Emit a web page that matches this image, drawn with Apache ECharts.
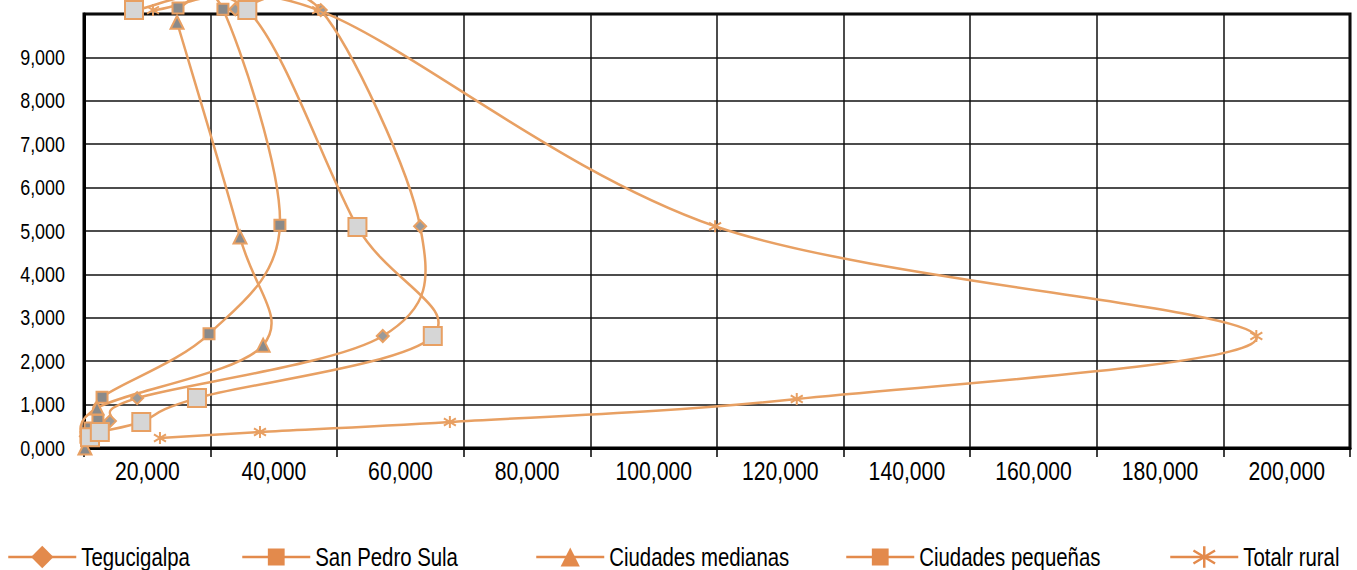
<!DOCTYPE html>
<html>
<head>
<meta charset="utf-8">
<script src="https://cdn.jsdelivr.net/npm/echarts@6.0.0/dist/echarts.min.js"></script>
<style>
  html, body { margin: 0; padding: 0; background: #ffffff; }
  #chart { width: 1357px; height: 570px; }
</style>
</head>
<body>
<div id="chart"></div>
<script>
// Series names as shown in the legend
const seriesNames = ['Tegucigalpa', 'San Pedro Sula', 'Ciudades medianas', 'Ciudades pequeñas', 'Totalr rural'];

// Tick labels
const xTickLabels = ['20,000', '40,000', '60,000', '80,000', '100,000', '120,000', '140,000', '160,000', '180,000', '200,000'];
const yTickLabels = ['0,000', '1,000', '2,000', '3,000', '4,000', '5,000', '6,000', '7,000', '8,000', '9,000', ''];

// Tegucigalpa
const teguX = [300, 4100, 8400, 47200, 53100, 37400, 23900];
const teguY = [270, 620, 1150, 2580, 5110, 10090, 10110];

// San Pedro Sula
const spsX = [300, 950, 2200, 2850, 19750, 30950, 21950, 14850];
const spsY = [250, 460, 640, 1170, 2630, 5130, 10110, 10140];

// Ciudades medianas
const medX = [150, 2050, 28300, 24650, 14700];
const medY = [0, 920, 2370, 4860, 9810];

// Ciudades pequeñas
const pequeX = [950, 2500, 9050, 17850, 55100, 43200, 25800, 7900];
const pequeY = [250, 370, 600, 1150, 2580, 5090, 10090, 10090];

// Total rural
const ruralX = [12000, 27800, 57800, 112600, 185200, 99700, 37000, 10900];
const ruralY = [230, 370, 600, 1130, 2580, 5110, 10090, 10090];

const pairs = (xs, ys) => xs.map((x, i) => [x, ys[i]]);

const LINE = '#E8A063';
const LEGEND = '#E38A4C';
const FONT = "'Liberation Sans', Arial, sans-serif";
const CONDENSE = 0.815;   // narrow lettering
const ASTERISK = 'path://M10,0L10,20M2,4L18,16M2,16L18,4';

const markerDefs = [
  { symbol: 'diamond', size: 12, fill: '#9a9a9a', legendH: 28 },
  { symbol: 'rect', size: 11, fill: '#8a8a8a', legendH: 21 },
  { symbol: 'triangle', size: 13, fill: '#8a8a8a', legendH: 24 },
  { symbol: 'rect', size: 18, fill: '#d6d6d6', legendH: 21 },
  { symbol: ASTERISK, size: 12, fill: 'none', legendH: 27 }
];
const dataSets = [
  pairs(teguX, teguY),
  pairs(spsX, spsY),
  pairs(medX, medY),
  pairs(pequeX, pequeY),
  pairs(ruralX, ruralY)
];

// Smoothed connector (cardinal spline, tension 1/6) drawn in pixel space
function curveRenderer(points) {
  return function (params, api) {
    if (params.dataIndex !== 0) return null;
    const p = points.map((pt) => api.coord(pt));
    const children = [];
    for (let i = 0; i < p.length - 1; i++) {
      const p0 = p[i - 1] || p[i];
      const p1 = p[i];
      const p2 = p[i + 1];
      const p3 = p[i + 2] || p[i + 1];
      children.push({
        type: 'bezierCurve',
        shape: {
          x1: p1[0], y1: p1[1],
          cpx1: p1[0] + (p2[0] - p0[0]) / 6, cpy1: p1[1] + (p2[1] - p0[1]) / 6,
          cpx2: p2[0] - (p3[0] - p1[0]) / 6, cpy2: p2[1] - (p3[1] - p1[1]) / 6,
          x2: p2[0], y2: p2[1]
        },
        style: { stroke: LINE, lineWidth: 2.5, fill: null }
      });
    }
    return { type: 'group', children };
  };
}

const curveSeries = dataSets.map((pts, i) => ({
  name: seriesNames[i] + ' curve',
  type: 'custom',
  xAxisIndex: 0,
  yAxisIndex: 0,
  data: pts,
  clip: false,
  silent: true,
  renderItem: curveRenderer(pts),
  z: 2
}));

const markerSeries = seriesNames.map((name, i) => ({
  name,
  type: 'line',
  xAxisIndex: 0,
  yAxisIndex: 0,
  data: dataSets[i],
  clip: false,
  symbol: markerDefs[i].symbol,
  symbolSize: markerDefs[i].size,
  showAllSymbol: true,
  lineStyle: { width: 0, opacity: 0 },
  itemStyle: {
    color: markerDefs[i].fill === 'none' ? 'rgba(0,0,0,0)' : markerDefs[i].fill,
    borderColor: LINE,
    borderWidth: 2
  },
  emphasis: { disabled: true },
  z: 3 + i
}));

// One legend block per series so each entry sits at its own place
const legendLefts = [7, 241, 535, 845, 1169];
const legends = seriesNames.map((name, i) => ({
  left: legendLefts[i],
  top: 543,
  padding: 0,
  orient: 'horizontal',
  itemWidth: 68,
  itemHeight: markerDefs[i].legendH,
  selectedMode: false,
  textStyle: { fontFamily: FONT, fontSize: 25, lineHeight: 28, color: '#000' },
  data: [{
    name,
    itemStyle: i === 4
      ? { color: 'rgba(0,0,0,0)', borderColor: LEGEND, borderWidth: 2.5, opacity: 1 }
      : { color: LEGEND, borderColor: LEGEND, borderWidth: 0, opacity: 1 },
    lineStyle: { color: LEGEND, width: 2.5, opacity: 1, type: 'solid' }
  }]
}));

const chart = echarts.init(document.getElementById('chart'), null, { renderer: 'svg' });
chart.setOption({
  animation: false,
  backgroundColor: '#ffffff',
  grid: {
    left: 84, right: 7, top: 14, bottom: 122,
    show: true, borderColor: '#000', borderWidth: 3, backgroundColor: 'transparent'
  },
  legend: legends,
  xAxis: [
    {
      type: 'value', min: 0, max: 200000, interval: 20000, position: 'bottom',
      axisLine: { show: true, onZero: false, lineStyle: { color: '#000', width: 3 } },
      axisTick: { show: true, length: 9, lineStyle: { color: '#000', width: 1.5 } },
      axisLabel: { show: false },
      splitLine: { show: true, lineStyle: { color: '#111', width: 1.5 } }
    },
    {
      type: 'category', data: xTickLabels, boundaryGap: true, position: 'bottom',
      axisLine: { show: false }, axisTick: { show: false }, splitLine: { show: false },
      axisLabel: { show: true, interval: 0, margin: 10, fontFamily: FONT, fontSize: 26, lineHeight: 26, color: '#000' }
    }
  ],
  yAxis: {
    type: 'value', min: 0, max: 10000, interval: 1000,
    axisLine: { show: true, lineStyle: { color: '#000', width: 3 } },
    axisTick: { show: false },
    axisLabel: {
      margin: 19, fontFamily: FONT, fontSize: 22, color: '#000',
      formatter: (v) => yTickLabels[Math.round(v / 1000)]
    },
    splitLine: { show: true, lineStyle: { color: '#111', width: 1.5 } }
  },
  series: curveSeries.concat(markerSeries)
});

// Narrow every label horizontally around its own anchor point
function condenseText() {
  document.querySelectorAll('#chart svg text').forEach((t) => {
    if (t.dataset.condensed) return;
    const x = parseFloat(t.getAttribute('x')) || 0;
    const tr = t.getAttribute('transform') || '';
    t.setAttribute('transform', (tr + ' translate(' + x + ' 0) scale(' + CONDENSE + ' 1) translate(' + (-x) + ' 0)').trim());
    t.dataset.condensed = '1';
  });
}
chart.on('finished', condenseText);
condenseText();
</script>
</body>
</html>
